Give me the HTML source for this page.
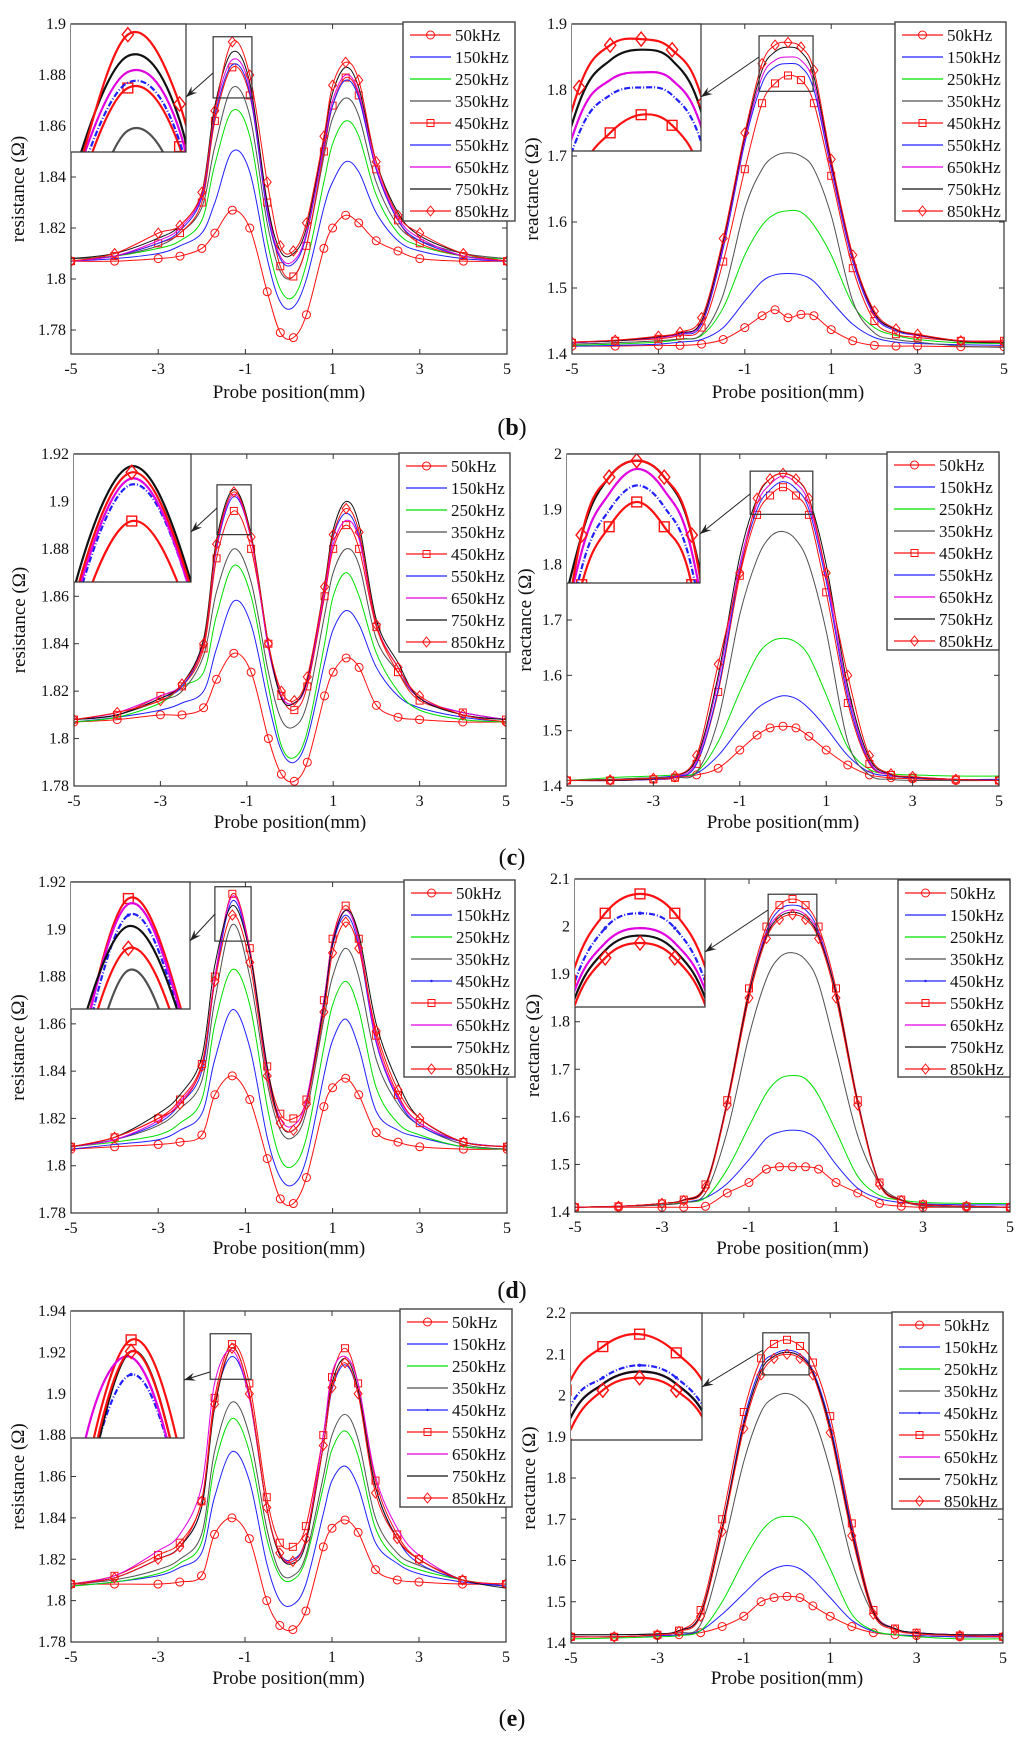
<!DOCTYPE html>
<html><head><meta charset="utf-8"><style>
html,body{margin:0;padding:0;background:#fff;width:1024px;height:1743px;overflow:hidden;}
svg{display:block;font-family:"Liberation Serif",serif;overflow:hidden;}
</style></head><body>
<svg id="fig" width="1024" height="1743" viewBox="0 0 1024 1743" xmlns="http://www.w3.org/2000/svg"></svg>
<script>
const freqLabels=["50kHz","150kHz","250kHz","350kHz","450kHz","550kHz","650kHz","750kHz","850kHz"];
const xGridR=[-5,-4,-3,-2.5,-2,-1.7,-1.3,-0.9,-0.5,-0.2,0.1,0.4,0.8,1.0,1.3,1.6,2,2.5,3,4,5];
const xGridX=[-5,-4,-3,-2.5,-2,-1.5,-1,-0.6,-0.3,0,0.3,0.6,1,1.5,2,2.5,3,4,5];
const xTicks=[-5,-3,-1,1,3,5];

const bRes=[
[1.807,1.807,1.808,1.809,1.812,1.818,1.827,1.820,1.795,1.779,1.777,1.786,1.812,1.820,1.825,1.822,1.815,1.811,1.808,1.807,1.807],
[1.807,1.808,1.810,1.813,1.818,1.830,1.850,1.842,1.808,1.791,1.789,1.800,1.828,1.838,1.846,1.842,1.826,1.815,1.811,1.808,1.807],
[1.808,1.809,1.812,1.815,1.823,1.845,1.866,1.856,1.815,1.796,1.793,1.806,1.838,1.853,1.862,1.856,1.833,1.818,1.813,1.809,1.808],
[1.808,1.809,1.813,1.818,1.828,1.852,1.875,1.864,1.822,1.803,1.801,1.813,1.848,1.863,1.871,1.864,1.838,1.821,1.815,1.810,1.808],
[1.807,1.809,1.814,1.818,1.830,1.862,1.883,1.872,1.830,1.805,1.801,1.813,1.850,1.868,1.879,1.872,1.843,1.823,1.814,1.809,1.807],
[1.807,1.809,1.814,1.819,1.832,1.864,1.884,1.873,1.826,1.808,1.806,1.817,1.852,1.868,1.878,1.871,1.843,1.823,1.815,1.809,1.807],
[1.807,1.809,1.815,1.820,1.833,1.866,1.886,1.875,1.828,1.809,1.807,1.818,1.853,1.870,1.880,1.873,1.844,1.824,1.816,1.809,1.807],
[1.808,1.810,1.816,1.821,1.834,1.868,1.889,1.877,1.830,1.811,1.810,1.820,1.855,1.873,1.883,1.875,1.846,1.826,1.817,1.810,1.807],
[1.807,1.810,1.818,1.821,1.834,1.866,1.893,1.880,1.838,1.813,1.811,1.822,1.856,1.876,1.885,1.878,1.846,1.825,1.818,1.810,1.807]];
const bReact=[
[1.412,1.412,1.413,1.413,1.415,1.422,1.440,1.458,1.467,1.455,1.460,1.458,1.437,1.420,1.413,1.412,1.412,1.411,1.411],
[1.412,1.413,1.415,1.418,1.422,1.440,1.480,1.510,1.520,1.522,1.520,1.510,1.480,1.445,1.425,1.418,1.416,1.414,1.413],
[1.413,1.415,1.418,1.422,1.428,1.470,1.550,1.595,1.612,1.617,1.615,1.595,1.550,1.475,1.440,1.428,1.422,1.417,1.416],
[1.415,1.417,1.420,1.423,1.430,1.490,1.620,1.680,1.700,1.705,1.700,1.680,1.610,1.480,1.432,1.422,1.418,1.412,1.410],
[1.417,1.420,1.423,1.428,1.440,1.540,1.680,1.780,1.810,1.822,1.815,1.780,1.670,1.530,1.450,1.430,1.425,1.420,1.420],
[1.417,1.420,1.425,1.430,1.445,1.560,1.720,1.810,1.835,1.840,1.835,1.800,1.680,1.540,1.458,1.435,1.428,1.420,1.418],
[1.417,1.420,1.425,1.431,1.448,1.565,1.725,1.820,1.845,1.850,1.845,1.810,1.685,1.545,1.460,1.437,1.428,1.420,1.418],
[1.418,1.420,1.426,1.432,1.450,1.570,1.730,1.830,1.858,1.865,1.858,1.820,1.690,1.548,1.462,1.437,1.429,1.419,1.417],
[1.418,1.421,1.427,1.433,1.455,1.575,1.735,1.840,1.868,1.872,1.865,1.830,1.695,1.550,1.465,1.438,1.430,1.420,1.418]];
const cRes=[
[1.807,1.808,1.810,1.810,1.813,1.825,1.836,1.828,1.800,1.785,1.782,1.790,1.818,1.828,1.834,1.830,1.814,1.809,1.808,1.807,1.807],
[1.807,1.809,1.812,1.815,1.820,1.838,1.858,1.848,1.815,1.795,1.790,1.800,1.832,1.846,1.854,1.848,1.830,1.818,1.813,1.809,1.807],
[1.807,1.809,1.815,1.822,1.828,1.852,1.873,1.860,1.822,1.797,1.792,1.803,1.840,1.860,1.870,1.860,1.836,1.820,1.812,1.808,1.807],
[1.808,1.810,1.816,1.820,1.835,1.862,1.880,1.866,1.828,1.808,1.805,1.815,1.852,1.870,1.880,1.873,1.842,1.828,1.817,1.810,1.808],
[1.808,1.810,1.818,1.822,1.838,1.876,1.896,1.880,1.840,1.818,1.812,1.822,1.860,1.880,1.890,1.880,1.847,1.828,1.816,1.811,1.808],
[1.808,1.810,1.817,1.822,1.840,1.880,1.902,1.884,1.838,1.818,1.815,1.824,1.862,1.885,1.895,1.885,1.848,1.830,1.817,1.811,1.808],
[1.808,1.811,1.818,1.823,1.841,1.881,1.903,1.884,1.838,1.818,1.815,1.824,1.862,1.882,1.892,1.884,1.848,1.830,1.817,1.811,1.808],
[1.808,1.810,1.817,1.823,1.842,1.884,1.905,1.886,1.840,1.817,1.815,1.825,1.865,1.888,1.900,1.890,1.850,1.832,1.817,1.810,1.808],
[1.808,1.811,1.816,1.823,1.840,1.882,1.904,1.885,1.840,1.820,1.816,1.826,1.864,1.886,1.897,1.887,1.848,1.830,1.818,1.810,1.807]];
const cReact=[
[1.41,1.41,1.412,1.415,1.42,1.432,1.465,1.492,1.505,1.508,1.505,1.490,1.465,1.438,1.420,1.415,1.413,1.41,1.41],
[1.41,1.412,1.415,1.418,1.423,1.455,1.505,1.540,1.555,1.563,1.558,1.540,1.505,1.455,1.425,1.418,1.415,1.412,1.412],
[1.41,1.415,1.418,1.420,1.425,1.480,1.570,1.635,1.660,1.667,1.660,1.635,1.565,1.470,1.430,1.422,1.420,1.418,1.418],
[1.41,1.412,1.415,1.416,1.425,1.520,1.710,1.810,1.850,1.860,1.845,1.800,1.680,1.480,1.420,1.412,1.410,1.410,1.410],
[1.41,1.41,1.412,1.415,1.44,1.57,1.78,1.89,1.925,1.94,1.925,1.89,1.75,1.55,1.44,1.42,1.415,1.412,1.41],
[1.41,1.41,1.412,1.416,1.44,1.575,1.79,1.90,1.935,1.95,1.937,1.90,1.77,1.56,1.443,1.42,1.415,1.412,1.41],
[1.41,1.41,1.413,1.417,1.445,1.59,1.80,1.91,1.945,1.96,1.947,1.91,1.78,1.57,1.445,1.42,1.416,1.412,1.41],
[1.41,1.41,1.413,1.418,1.45,1.60,1.815,1.92,1.955,1.965,1.955,1.92,1.80,1.58,1.45,1.421,1.416,1.412,1.41],
[1.41,1.411,1.414,1.418,1.455,1.62,1.785,1.92,1.955,1.965,1.955,1.92,1.785,1.60,1.455,1.422,1.417,1.412,1.41]];
const dRes=[
[1.807,1.808,1.809,1.810,1.813,1.830,1.838,1.828,1.803,1.786,1.784,1.795,1.825,1.833,1.837,1.830,1.814,1.810,1.808,1.807,1.807],
[1.807,1.809,1.811,1.815,1.822,1.845,1.866,1.850,1.812,1.795,1.792,1.803,1.838,1.853,1.862,1.850,1.823,1.815,1.812,1.808,1.807],
[1.808,1.810,1.813,1.818,1.828,1.860,1.883,1.868,1.825,1.803,1.800,1.812,1.850,1.868,1.878,1.866,1.833,1.818,1.813,1.808,1.807],
[1.808,1.811,1.817,1.824,1.836,1.870,1.902,1.880,1.835,1.815,1.812,1.823,1.862,1.880,1.892,1.880,1.845,1.826,1.817,1.809,1.807],
[1.808,1.811,1.818,1.826,1.840,1.878,1.912,1.890,1.840,1.818,1.815,1.826,1.868,1.893,1.906,1.893,1.852,1.828,1.817,1.810,1.808],
[1.808,1.812,1.820,1.828,1.843,1.880,1.915,1.892,1.842,1.822,1.820,1.828,1.870,1.896,1.910,1.896,1.855,1.830,1.818,1.810,1.808],
[1.808,1.811,1.819,1.827,1.842,1.880,1.914,1.891,1.840,1.820,1.817,1.828,1.870,1.895,1.908,1.895,1.853,1.829,1.818,1.810,1.808],
[1.808,1.812,1.822,1.830,1.846,1.885,1.910,1.890,1.842,1.818,1.815,1.826,1.868,1.894,1.908,1.898,1.860,1.835,1.820,1.810,1.808],
[1.808,1.812,1.820,1.826,1.842,1.878,1.906,1.886,1.838,1.818,1.815,1.826,1.865,1.890,1.903,1.892,1.857,1.832,1.820,1.810,1.808]];
const dReact=[
[1.41,1.41,1.41,1.41,1.412,1.44,1.462,1.49,1.495,1.495,1.495,1.49,1.462,1.44,1.418,1.412,1.41,1.41,1.41],
[1.41,1.412,1.415,1.42,1.43,1.46,1.51,1.555,1.568,1.572,1.568,1.55,1.50,1.45,1.428,1.42,1.417,1.415,1.415],
[1.41,1.412,1.415,1.42,1.43,1.49,1.58,1.65,1.68,1.687,1.68,1.645,1.57,1.475,1.435,1.425,1.42,1.418,1.418],
[1.41,1.412,1.415,1.42,1.44,1.57,1.77,1.89,1.935,1.945,1.93,1.88,1.74,1.56,1.46,1.425,1.413,1.41,1.41],
[1.41,1.412,1.418,1.425,1.455,1.63,1.86,1.99,2.035,2.045,2.035,1.99,1.86,1.63,1.46,1.425,1.415,1.412,1.41],
[1.41,1.412,1.418,1.426,1.458,1.635,1.87,2.00,2.045,2.058,2.045,2.00,1.87,1.635,1.462,1.426,1.416,1.412,1.41],
[1.41,1.412,1.418,1.425,1.455,1.63,1.86,1.985,2.025,2.035,2.025,1.985,1.86,1.63,1.46,1.425,1.415,1.412,1.41],
[1.41,1.412,1.418,1.425,1.455,1.63,1.86,1.98,2.02,2.03,2.02,1.98,1.86,1.63,1.46,1.425,1.415,1.412,1.41],
[1.41,1.412,1.418,1.424,1.452,1.625,1.85,1.975,2.015,2.025,2.015,1.975,1.85,1.625,1.458,1.424,1.415,1.412,1.41]];
const eRes=[
[1.808,1.808,1.808,1.809,1.812,1.832,1.840,1.830,1.800,1.788,1.786,1.795,1.826,1.835,1.839,1.833,1.815,1.810,1.809,1.808,1.808],
[1.807,1.809,1.812,1.816,1.823,1.850,1.872,1.858,1.818,1.800,1.798,1.808,1.842,1.858,1.865,1.855,1.828,1.818,1.813,1.809,1.807],
[1.807,1.809,1.813,1.818,1.828,1.865,1.888,1.872,1.830,1.812,1.810,1.820,1.855,1.873,1.882,1.870,1.835,1.820,1.815,1.810,1.807],
[1.808,1.810,1.815,1.820,1.832,1.872,1.896,1.880,1.835,1.814,1.812,1.822,1.860,1.880,1.890,1.878,1.840,1.823,1.817,1.810,1.807],
[1.808,1.811,1.820,1.826,1.845,1.895,1.918,1.898,1.845,1.823,1.820,1.830,1.875,1.902,1.914,1.900,1.855,1.830,1.818,1.810,1.807],
[1.808,1.812,1.822,1.828,1.848,1.898,1.924,1.905,1.850,1.828,1.826,1.836,1.880,1.908,1.922,1.905,1.858,1.832,1.820,1.810,1.808],
[1.808,1.812,1.824,1.832,1.855,1.905,1.921,1.898,1.845,1.822,1.819,1.830,1.880,1.910,1.918,1.905,1.860,1.835,1.822,1.810,1.808],
[1.808,1.811,1.820,1.826,1.845,1.893,1.922,1.900,1.845,1.822,1.818,1.828,1.875,1.905,1.917,1.902,1.855,1.830,1.820,1.810,1.806],
[1.808,1.811,1.820,1.826,1.848,1.895,1.922,1.900,1.845,1.823,1.819,1.830,1.875,1.903,1.915,1.900,1.852,1.830,1.820,1.810,1.808]];
const eReact=[
[1.415,1.415,1.418,1.42,1.425,1.44,1.465,1.50,1.51,1.513,1.51,1.49,1.465,1.44,1.425,1.42,1.418,1.415,1.415],
[1.415,1.415,1.418,1.42,1.43,1.47,1.52,1.56,1.58,1.588,1.58,1.555,1.51,1.455,1.428,1.42,1.418,1.415,1.415],
[1.41,1.412,1.415,1.418,1.43,1.50,1.60,1.67,1.70,1.707,1.70,1.665,1.58,1.47,1.43,1.42,1.415,1.41,1.41],
[1.42,1.42,1.422,1.425,1.445,1.62,1.84,1.96,1.995,2.005,1.99,1.95,1.82,1.60,1.47,1.435,1.425,1.42,1.42],
[1.415,1.415,1.42,1.43,1.47,1.68,1.94,2.07,2.10,2.11,2.10,2.06,1.93,1.68,1.48,1.435,1.425,1.42,1.42],
[1.415,1.415,1.42,1.43,1.48,1.70,1.96,2.09,2.125,2.135,2.12,2.08,1.95,1.69,1.48,1.435,1.425,1.418,1.415],
[1.415,1.415,1.42,1.43,1.47,1.68,1.93,2.06,2.095,2.105,2.095,2.055,1.92,1.67,1.475,1.435,1.425,1.42,1.418],
[1.42,1.42,1.422,1.43,1.47,1.68,1.93,2.06,2.095,2.105,2.095,2.055,1.92,1.67,1.475,1.435,1.425,1.42,1.42],
[1.415,1.415,1.42,1.428,1.465,1.67,1.92,2.05,2.09,2.10,2.09,2.05,1.91,1.66,1.47,1.432,1.422,1.418,1.415]];

const NS="http://www.w3.org/2000/svg";
const svg=document.getElementById('fig');
function mk(tag,attrs,parent){const e=document.createElementNS(NS,tag);for(const k in attrs)e.setAttribute(k,attrs[k]);(parent||svg).appendChild(e);return e;}

const styleAB=[{c:'#ff1010',m:'o'},{c:'#2020ff'},{c:'#00e000'},{c:'#505050'},{c:'#ff1010',m:'s'},{c:'#2020ff',dash:'6,2,1,2'},{c:'#e000e0'},{c:'#111'},{c:'#ff1010',m:'d'}];
const styleDE=[{c:'#ff1010',m:'o'},{c:'#2020ff'},{c:'#00e000'},{c:'#505050'},{c:'#2020ff',m:'.',dash:'6,2,1,2'},{c:'#ff1010',m:'s'},{c:'#e000e0'},{c:'#111'},{c:'#ff1010',m:'d'}];

const panels=[
{id:'b-resistance',data:bRes,xs:xGridR,L:71,R:507,T:24,B:354,y0:1.7706,y1:1.9,ticks:[1.78,1.8,1.82,1.84,1.86,1.88,1.9],yl:'resistance (Ω)',ylo:53,leg:[403,22,112,199],ins:[71,24,186,152],box:[-1.74,-0.85,1.871,1.895],arr:[213,73,186,97],st:styleAB,xlY:392},
{id:'b-reactance',data:bReact,xs:xGridX,L:572,R:1004,T:24,B:354,y0:1.4,y1:1.9,ticks:[1.4,1.5,1.6,1.7,1.8,1.9],yl:'reactance (Ω)',ylo:40,leg:[895,22,111,199],ins:[572,24,701,151],box:[-0.67,0.58,1.798,1.882],arr:[759,57,701,97],st:styleAB,xlY:392},
{id:'c-resistance',data:cRes,xs:xGridR,L:74,R:506,T:454,B:786,y0:1.78,y1:1.92,ticks:[1.78,1.8,1.82,1.84,1.86,1.88,1.9,1.92],yl:'resistance (Ω)',ylo:55,leg:[399,453,111,199],ins:[74,454,191,582],box:[-1.69,-0.90,1.886,1.907],arr:[217,508,191,532],st:styleAB,xlY:822},
{id:'c-reactance',data:cReact,xs:xGridX,L:567,R:999,T:454,B:786,y0:1.4,y1:2.0,ticks:[1.4,1.5,1.6,1.7,1.8,1.9,2],yl:'reactance (Ω)',ylo:42,leg:[887,452,112,198],ins:[567,454,700,583],box:[-0.76,0.69,1.891,1.969],arr:[750,494,700,534],st:styleAB,xlY:822},
{id:'d-resistance',data:dRes,xs:xGridR,L:71,R:507,T:882,B:1213,y0:1.78,y1:1.92,ticks:[1.78,1.8,1.82,1.84,1.86,1.88,1.9,1.92],yl:'resistance (Ω)',ylo:53,leg:[404,880,111,197],ins:[71,882,190,1009],box:[-1.70,-0.87,1.895,1.918],arr:[215,914,190,941],st:styleDE,xlY:1248},
{id:'d-reactance',data:dReact,xs:xGridX,L:575,R:1010,T:879,B:1212,y0:1.4,y1:2.1,ticks:[1.4,1.5,1.6,1.7,1.8,1.9,2,2.1],yl:'reactance (Ω)',ylo:42,leg:[898,880,112,197],ins:[575,879,705,1007],box:[-0.56,0.56,1.982,2.068],arr:[768,910,705,952],st:styleDE,xlY:1248},
{id:'e-resistance',data:eRes,xs:xGridR,L:71,R:506,T:1311,B:1642,y0:1.78,y1:1.94,ticks:[1.78,1.8,1.82,1.84,1.86,1.88,1.9,1.92,1.94],yl:'resistance (Ω)',ylo:53,leg:[400,1309,112,198],ins:[71,1311,184,1438],box:[-1.80,-0.86,1.907,1.929],arr:[210,1372,184,1380],st:styleDE,xlY:1678},
{id:'e-reactance',data:eReact,xs:xGridX,L:571,R:1003,T:1313,B:1643,y0:1.4,y1:2.2,ticks:[1.4,1.5,1.6,1.7,1.8,1.9,2,2.1,2.2],yl:'reactance (Ω)',ylo:42,leg:[892,1312,111,197],ins:[571,1313,702,1440],box:[-0.56,0.51,2.050,2.152],arr:[763,1350,702,1387],st:styleDE,xlY:1678}
];

function crPath(pts){
  let d='M'+pts[0][0].toFixed(2)+','+pts[0][1].toFixed(2);
  for(let i=0;i<pts.length-1;i++){
    const p0=pts[Math.max(0,i-1)],p1=pts[i],p2=pts[i+1],p3=pts[Math.min(pts.length-1,i+2)];
    const c1x=p1[0]+(p2[0]-p0[0])/6,c1y=p1[1]+(p2[1]-p0[1])/6;
    const c2x=p2[0]-(p3[0]-p1[0])/6,c2y=p2[1]-(p3[1]-p1[1])/6;
    d+='C'+c1x.toFixed(2)+','+c1y.toFixed(2)+' '+c2x.toFixed(2)+','+c2y.toFixed(2)+' '+p2[0].toFixed(2)+','+p2[1].toFixed(2);
  }
  return d;
}
function marker(g,m,x,y,c,s){
  let e;
  if(m==='o'){e=mk('circle',{cx:x,cy:y,r:4*s,fill:'none',stroke:c,'stroke-width':1*s},g);}
  else if(m==='s'){e=mk('rect',{x:x-3.5*s,y:y-3.5*s,width:7*s,height:7*s,fill:'none',stroke:c,'stroke-width':1*s},g);}
  else if(m==='d'){e=mk('path',{d:`M${x},${y-5*s}L${x+4*s},${y}L${x},${y+5*s}L${x-4*s},${y}Z`,fill:'none',stroke:c,'stroke-width':1*s},g);}
  else if(m==='.'){e=mk('circle',{cx:x,cy:y,r:1.2*s,fill:c},g);}
  if(e){
  }
}
function fmt(v){return String(+v.toFixed(2));}

let clipN=0;
panels.forEach(P=>{
  const g=mk('g',{});
  
  
  const sx=v=>P.L+(v+5)/10*(P.R-P.L);
  const sy=v=>P.B-(v-P.y0)/(P.y1-P.y0)*(P.B-P.T);
  const cid='clip'+(clipN++);
  const cp=mk('clipPath',{id:cid},g);mk('rect',{x:P.L,y:P.T,width:P.R-P.L,height:P.B-P.T},cp);
  const sg=mk('g',{'clip-path':`url(#${cid})`},g);
  P.data.forEach((ser,si)=>{
    const st=P.st[si];
    const pts=ser.map((v,i)=>[sx(P.xs[i]),sy(v)]);
    const p=mk('path',{d:crPath(pts),fill:'none',stroke:st.c,'stroke-width':1,'stroke-linejoin':'round'},sg);
    
    
    if(st.m&&st.m!=='.')pts.forEach(q=>marker(sg,st.m,q[0],q[1],st.c,1));
  });
  const fr=mk('rect',{x:P.L,y:P.T,width:P.R-P.L,height:P.B-P.T,fill:'none',stroke:'#333','stroke-width':1.2},g);
  
  
  xTicks.forEach(t=>{
    const x=sx(t);
    mk('line',{x1:x,x2:x,y1:P.B,y2:P.B-5,stroke:'#333'},g);
    mk('line',{x1:x,x2:x,y1:P.T,y2:P.T+5,stroke:'#333'},g);
    const tx=mk('text',{x:x,y:P.B+20,'font-size':16,'text-anchor':'middle',fill:'#111'},g);
    tx.textContent=String(t);
    
    
  });
  P.ticks.forEach(t=>{
    const y=sy(t);
    mk('line',{x1:P.L,x2:P.L+5,y1:y,y2:y,stroke:'#333'},g);
    mk('line',{x1:P.R,x2:P.R-5,y1:y,y2:y,stroke:'#333'},g);
    const tx=mk('text',{x:P.L-5,y:y+5,'font-size':16,'text-anchor':'end',fill:'#111'},g);
    tx.textContent=fmt(t);
    
    
  });
  const xl=mk('text',{x:(P.L+P.R)/2,y:P.xlY+6,'font-size':19,'text-anchor':'middle',fill:'#111'},g);
  xl.textContent='Probe position(mm)';
  
  
  const ylx=P.L-P.ylo,yly=(P.T+P.B)/2;
  const yl=mk('text',{x:ylx,y:yly+6,'font-size':19,'text-anchor':'middle',fill:'#111',transform:`rotate(-90 ${ylx} ${yly})`},g);
  yl.textContent=P.yl;
  
  
  const bx0=sx(P.box[0]),bx1=sx(P.box[1]),by0=sy(P.box[3]),by1=sy(P.box[2]);
  const zb=mk('rect',{x:bx0,y:by0,width:bx1-bx0,height:by1-by0,fill:'none',stroke:'#333','stroke-width':1.2},g);
  
  
  const [ix0,iy0,ix1,iy1]=P.ins;
  const ig=mk('g',{},g);
  
  
  mk('rect',{x:ix0,y:iy0,width:ix1-ix0,height:iy1-iy0,fill:'#fff'},ig);
  const icid='clip'+(clipN++);
  const icp=mk('clipPath',{id:icid},ig);mk('rect',{x:ix0,y:iy0,width:ix1-ix0,height:iy1-iy0},icp);
  const isg=mk('g',{'clip-path':`url(#${icid})`},ig);
  const isx=v=>ix0+(v-P.box[0])/(P.box[1]-P.box[0])*(ix1-ix0);
  const isy=v=>iy1-(v-P.box[2])/(P.box[3]-P.box[2])*(iy1-iy0);
  P.data.forEach((ser,si)=>{
    const st=P.st[si];
    const pts=ser.map((v,i)=>[isx(P.xs[i]),isy(v)]);
    const attrs={d:crPath(pts),fill:'none',stroke:st.c,'stroke-width':2.2,'stroke-linejoin':'round'};
    if(st.dash)attrs['stroke-dasharray']=st.dash;
    const p=mk('path',attrs,isg);
    
    
    if(st.m)pts.forEach(q=>marker(isg,st.m,q[0],q[1],st.c,1.4));
  });
  mk('polyline',{points:`${ix0},${iy0} ${ix1},${iy0} ${ix1},${iy1} ${ix0},${iy1}`,fill:'none',stroke:'#333','stroke-width':1.2},ig);
  const [ax0,ay0,ax1,ay1]=P.arr;
  const ar=mk('line',{x1:ax0,y1:ay0,x2:ax1,y2:ay1,stroke:'#222','stroke-width':1},g);
  
  
  const ang=Math.atan2(ay1-ay0,ax1-ax0),hl=12,hw=0.35;
  const h1=[ax1-hl*Math.cos(ang-hw),ay1-hl*Math.sin(ang-hw)],h2=[ax1-hl*Math.cos(ang+hw),ay1-hl*Math.sin(ang+hw)],hm=[ax1-hl*0.6*Math.cos(ang),ay1-hl*0.6*Math.sin(ang)];
  mk('path',{d:`M${ax1},${ay1}L${h1[0]},${h1[1]}L${hm[0]},${hm[1]}L${h2[0]},${h2[1]}Z`,fill:'#222'},g);
  const [lx,ly,lw,lh]=P.leg;
  const lg=mk('g',{},g);
  
  
  mk('rect',{x:lx,y:ly,width:lw,height:lh,fill:'#fff',stroke:'#444','stroke-width':1.4},lg);
  freqLabels.forEach((lab,si)=>{
    const st=P.st[si];const yy=ly+13+si*22;
    const eg=mk('g',{},lg);
    
    
    mk('line',{x1:lx+7,x2:lx+48,y1:yy,y2:yy,stroke:st.c,'stroke-width':1.3},eg);
    if(st.m)marker(eg,st.m,lx+27.5,yy,st.c,1);
    const t=mk('text',{x:lx+52,y:yy+6,'font-size':17,fill:'#111'},eg);
    t.textContent=lab;
  });
});
[['b',427],['c',857],['d',1290],['e',1718]].forEach(([l,y])=>{
  const t=mk('text',{x:512,y:y+8,'font-size':24,'text-anchor':'middle',fill:'#111'});
  
  
  t.innerHTML='(<tspan font-weight="bold">'+l+'</tspan>)';
});
</script>
</body></html>
